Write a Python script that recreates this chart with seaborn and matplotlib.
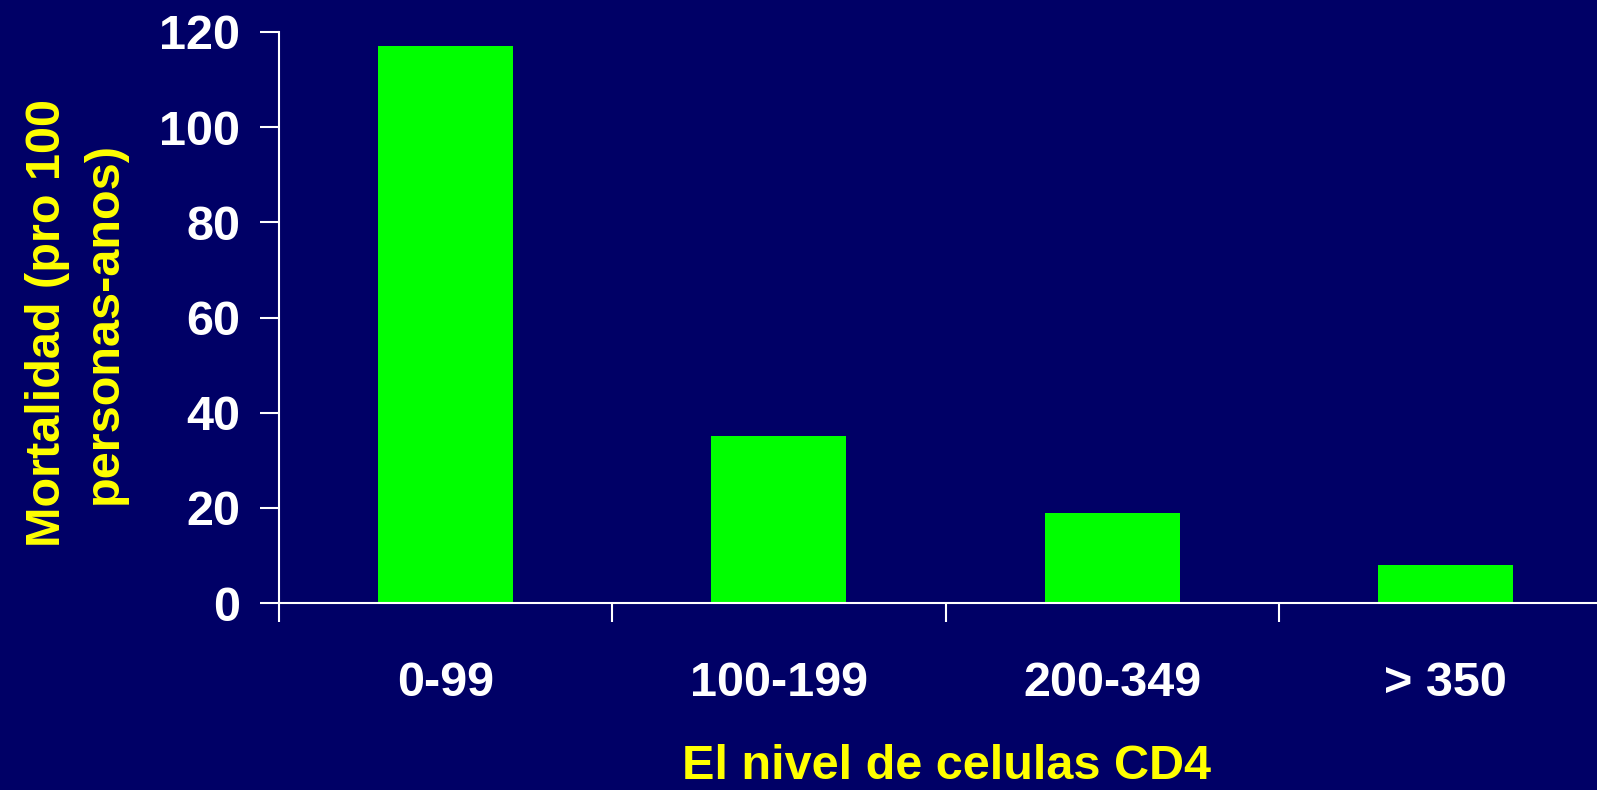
import matplotlib
matplotlib.use("Agg")
import matplotlib.pyplot as plt
import seaborn as sns
from matplotlib.ticker import FixedLocator

# data
categories = ["0-99", "100-199", "200-349", "> 350"]
mortality = [117, 35, 19, 8]
y_ticks = [0, 20, 40, 60, 80, 100, 120]

x_title = "El nivel de celulas CD4"
y_title = "Mortalidad (pro 100\npersonas-anos)"

bg = "#000066"
bar_green = "#00FF00"
yellow = "#FFFF00"

sns.set_style("ticks")
plt.rcParams["font.family"] = ["Liberation Sans", "DejaVu Sans"]
plt.rcParams["font.weight"] = "bold"

fig = plt.figure(figsize=(15.97, 7.90), dpi=100, facecolor=bg)
ax = fig.add_axes([0.1747, 0.2367, 0.8253, 0.7228])
ax.set_facecolor(bg)

sns.barplot(x=categories, y=mortality, color=bar_green, saturation=1,
            width=0.405, linewidth=0, ax=ax)

ax.set_ylim(0, 120)
ax.set_xlim(-0.5, 3.454)
ax.set_yticks(y_ticks)
ax.set_xlabel("")
ax.set_ylabel("")

# ticks sit between categories, labels in the middle
ax.xaxis.set_minor_locator(FixedLocator([i - 0.5 for i in range(len(categories))]))
ax.tick_params(axis="x", which="major", length=0, pad=42, labelcolor="white",
               labelsize=35)
ax.tick_params(axis="x", which="minor", length=14, width=1.5, color="white",
               direction="out")
ax.tick_params(axis="y", length=14, width=1.5, color="white", pad=14,
               labelcolor="white", labelsize=35)
for lab in ax.get_xticklabels() + ax.get_yticklabels():
    lab.set_fontweight("bold")

sns.despine(ax=ax)
for side in ["left", "bottom"]:
    ax.spines[side].set_color("white")
    ax.spines[side].set_linewidth(1.5)

fig.text(0.0475, 0.591, y_title, rotation=90, ha="center", va="center",
         multialignment="center", linespacing=1.35, color=yellow,
         fontsize=35, fontweight="bold")
fig.text(946 / 1597, 11 / 790, x_title, ha="center", va="baseline",
         color=yellow, fontsize=35, fontweight="bold")

fig.savefig("out.png", dpi=100, facecolor=bg)
